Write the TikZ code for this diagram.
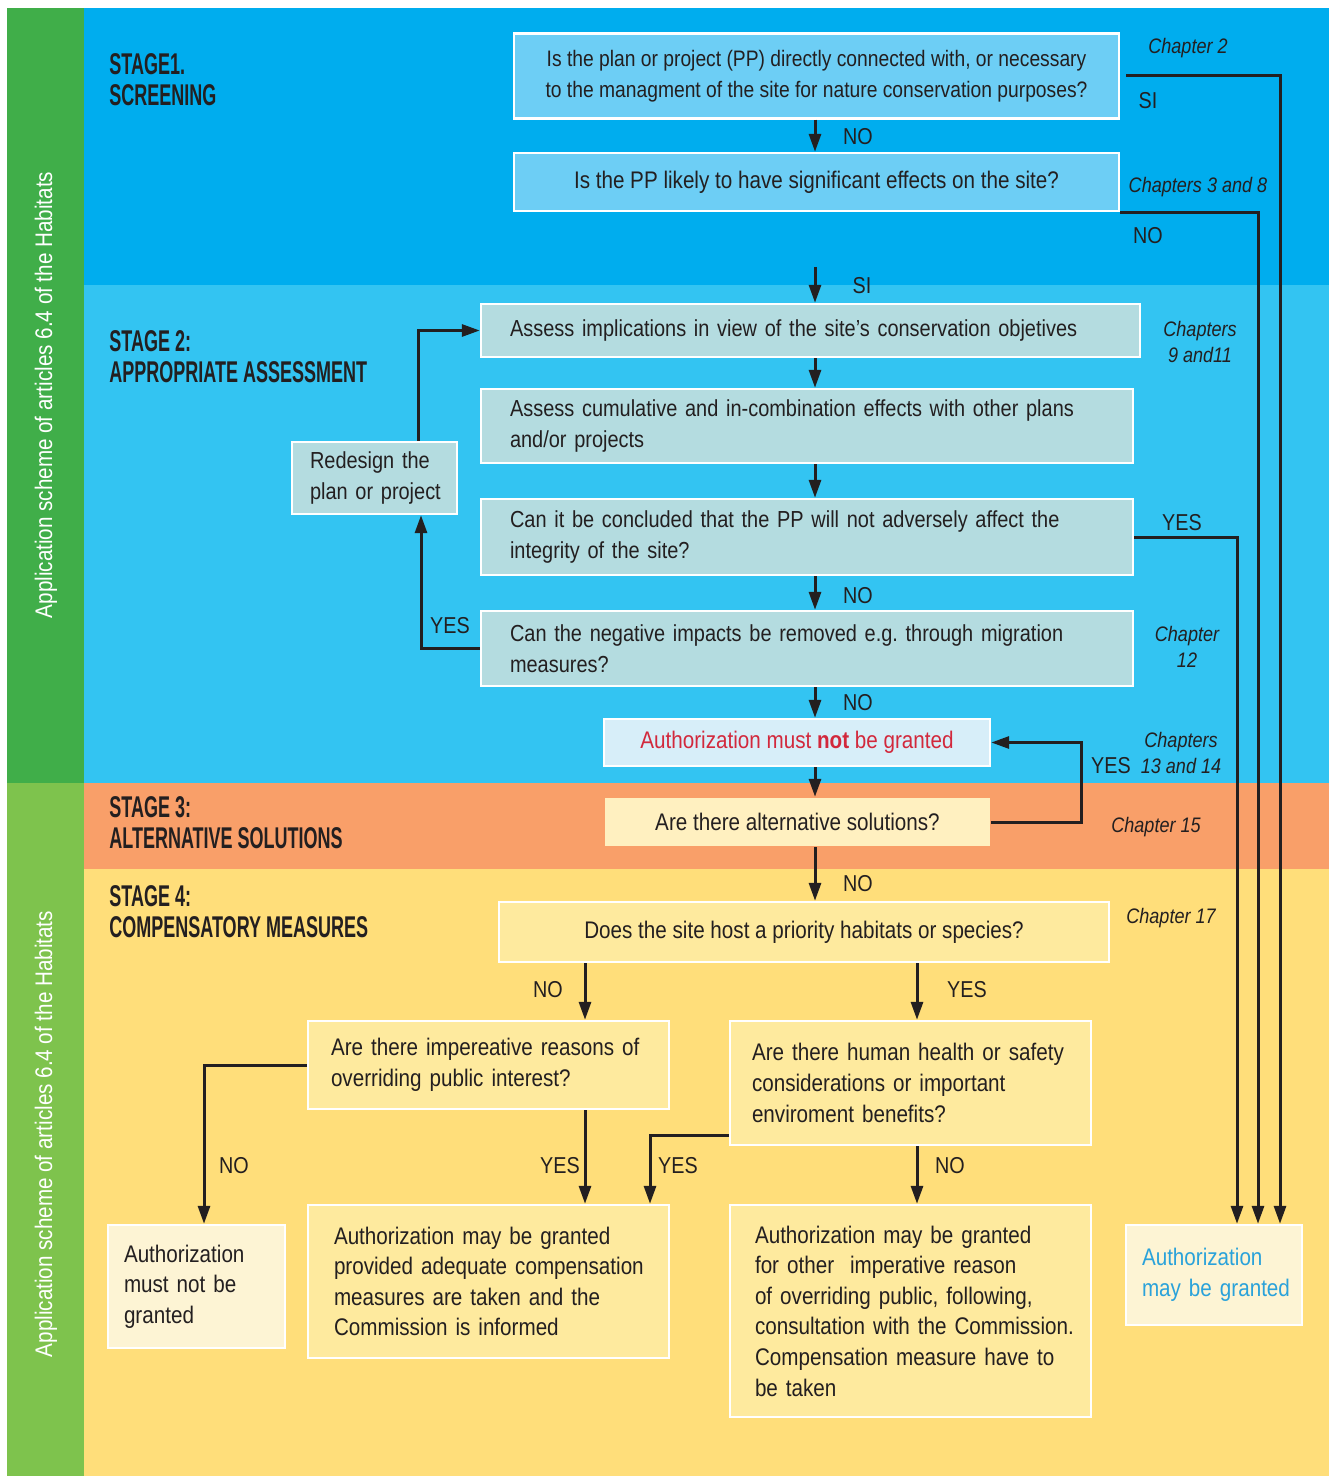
\documentclass[tikz,border=0pt]{standalone}
\usepackage{fontspec}
\setmainfont{Liberation Sans}[FakeStretch=0.86]
\newfontfamily\hdrfont{Liberation Sans}[FakeStretch=0.6]
\usetikzlibrary{arrows.meta}
\definecolor{ink}{HTML}{231F20}
\definecolor{stageA}{HTML}{00ADEE}
\definecolor{stageB}{HTML}{33C4F2}
\definecolor{stageC}{HTML}{F99F69}
\definecolor{stageD}{HTML}{FFDE7A}
\definecolor{greenA}{HTML}{40AE49}
\definecolor{greenB}{HTML}{7EC34D}
\definecolor{boxA}{HTML}{6DCEF5}
\definecolor{boxB}{HTML}{B4DCE0}
\definecolor{boxC}{HTML}{D7EEF9}
\definecolor{boxD}{HTML}{FFF0C0}
\definecolor{boxE}{HTML}{FEEA9E}
\definecolor{boxF}{HTML}{FDF4D4}
\definecolor{authred}{HTML}{D2283C}
\definecolor{authblue}{HTML}{2AA2DA}
\frenchspacing
\begin{document}
\begin{tikzpicture}[x=0.5pt,y=-0.5pt,
  box/.style={draw=white, line width=1.2pt, inner ysep=0pt, text=ink, font=\fontsize{12}{15.3}\selectfont},
  sbox/.style={font=\fontsize{11.6}{15.3}\selectfont},
  cbox/.style={box, align=center, inner xsep=0pt},
  lbox/.style={box, align=left},
  arr/.style={draw=ink, line width=1.5pt, -{Triangle[width=6pt,length=9pt]}},
  lab/.style={text=ink, font=\fontsize{11.5}{14}\selectfont, inner sep=0pt},
  chap/.style={text=ink, font=\itshape\fontsize{10.5}{13}\selectfont, align=center, inner sep=0pt},
  hdr/.style={text=ink, anchor=west, align=left, inner sep=0pt, font=\hdrfont\bfseries\fontsize{15}{15.5}\selectfont},
  vtext/.style={text=white, rotate=90, inner sep=0pt, font=\fontsize{12}{14}\selectfont}]
\useasboundingbox (0,0) rectangle (1329,1476);
\fill[white] (0,0) rectangle (1329,1476);
% bands
\fill[stageA] (84,8) rectangle (1329,285);
\fill[stageB] (84,285) rectangle (1329,783);
\fill[stageC] (84,783) rectangle (1329,869);
\fill[stageD] (84,869) rectangle (1329,1476);
\fill[greenA] (7,8) rectangle (84,783);
\fill[greenB] (7,783) rectangle (84,1476);
\node[vtext] (vt1) at (46,395) {Application scheme of articles 6.4 of the Habitats};
\node[vtext] (vt2) at (46,1134) {Application scheme of articles 6.4 of the Habitats};
% headers
\node[hdr] (h1) at (109,80) {STAGE1.\\SCREENING};
\node[hdr] (h2) at (109,357) {STAGE 2:\\APPROPRIATE ASSESSMENT};
\node[hdr] (h3) at (109,823) {STAGE 3:\\ALTERNATIVE SOLUTIONS};
\node[hdr] (h4) at (109,912) {STAGE 4:\\COMPENSATORY MEASURES};
% boxes
\node[cbox, fill=boxA, minimum width=302.5pt, minimum height=42.5pt, font=\fontsize{11.2}{15.5}\selectfont] (b1) at (816.5,76)
  {Is the plan or project (PP) directly connected with, or necessary\\to the managment of the site for nature conservation purposes?};
\node[cbox, fill=boxA, minimum width=302.5pt, minimum height=29pt] (b2) at (816.5,182)
  {Is the PP likely to have significant effects on the site?};
\node[lbox, sbox, fill=boxB, text width=300.5pt, inner xsep=14.5pt, minimum height=26.5pt] (b3) at (810.5,330.5)
  {\mbox{Assess implications in view of the site’s conservation objetives}};
\node[lbox, sbox, fill=boxB, text width=297pt, inner xsep=14.5pt, minimum height=37pt] (b4) at (807,426)
  {\mbox{Assess cumulative and in-combination effects with other plans}\\\mbox{and/or projects}};
\node[lbox, sbox, fill=boxB, text width=297pt, inner xsep=14.5pt, minimum height=38pt] (b5) at (807,537)
  {\mbox{Can it be concluded that the PP will not adversely affect the}\\\mbox{integrity of the site?}};
\node[lbox, sbox, fill=boxB, text width=297pt, inner xsep=14.5pt, minimum height=37.5pt] (b6) at (807,648.5)
  {\mbox{Can the negative impacts be removed e.g. through migration}\\\mbox{measures?}};
\node[lbox, sbox, fill=boxB, text width=64.5pt, inner xsep=9pt, minimum height=36pt] (rd) at (374.5,478)
  {\mbox{Redesign the}\\\mbox{plan or project}};
\node[cbox, fill=boxC, text=authred, minimum width=193pt, minimum height=23.5pt] (b7) at (797,742.5)
  {Authorization must \textbf{not} be granted};
\node[cbox, fill=boxD, draw=none, minimum width=192.5pt, minimum height=24pt] (b8) at (797.5,822)
  {Are there alternative solutions?};
\node[cbox, fill=boxE, minimum width=305pt, minimum height=30pt] (b9) at (804,932)
  {Does the site host a priority habitats or species?};
\node[lbox, fill=boxE, text width=157.5pt, inner xsep=11.5pt, minimum height=44pt] (b10) at (488.5,1065)
  {\mbox{Are there impereative reasons of}\\\mbox{overriding public interest?}};
\node[lbox, fill=boxE, text width=158.5pt, inner xsep=11pt, minimum height=62pt] (b11) at (910.5,1083)
  {\mbox{Are there human health or safety}\\\mbox{considerations or important}\\\mbox{enviroment benefits?}};
\node[lbox, fill=boxF, text width=72.5pt, inner xsep=8pt, minimum height=61.5pt] (b12) at (196.5,1286.5)
  {\mbox{Authorization}\\\mbox{must not be}\\\mbox{granted}};
\node[lbox, fill=boxE, text width=154.5pt, inner xsep=13pt, minimum height=76.5pt] (b13) at (488.5,1281.5)
  {\mbox{Authorization may be granted}\\\mbox{provided adequate compensation}\\\mbox{measures are taken and the}\\\mbox{Commission is informed}};
\node[lbox, fill=boxE, text width=155.5pt, inner xsep=12.5pt, minimum height=106pt] (b14) at (910.5,1311)
  {\mbox{Authorization may be granted}\\\mbox{for other~ imperative reason}\\\mbox{of overriding public, following,}\\\mbox{consultation with the Commission.}\\\mbox{Compensation measure have to}\\\mbox{be taken}};
\node[lbox, fill=boxF, text=authblue, text width=72pt, inner xsep=8pt, minimum height=50pt] (b15) at (1214,1275)
  {\mbox{Authorization}\\\mbox{may be granted}};
% helper coordinates
\coordinate (sp) at (815,0);
\coordinate (s2) at (815,267);
\coordinate (r1) at (1280,0);
\coordinate (r2) at (1258,0);
\coordinate (r3) at (1237,0);
\coordinate (xl) at (421,0);
\coordinate (xl2) at (418,0);
\coordinate (xr) at (1081,0);
\coordinate (xa) at (585,0);
\coordinate (xb) at (917,0);
\coordinate (xc) at (204,0);
\coordinate (xd) at (650,0);
% spine
\draw[arr] (b1.south -| sp) -- (b2.north -| sp);
\draw[arr] (s2) -- (b3.north -| sp);
\draw[arr] (b3.south -| sp) -- (b4.north -| sp);
\draw[arr] (b4.south -| sp) -- (b5.north -| sp);
\draw[arr] (b5.south -| sp) -- (b6.north -| sp);
\draw[arr] (b6.south -| sp) -- (b7.north -| sp);
\draw[arr] (b7.south -| sp) -- (b8.north -| sp);
\draw[arr] (b8.south -| sp) -- (b9.north -| sp);
% right side to authorisation
\draw[arr] ([xshift=3pt]b1.east) -- (b1.east -| r1) -- (b15.north -| r1);
\draw[arr] (b2.south east) -- (b2.south east -| r2) -- (b15.north -| r2);
\draw[arr] (b5.east) -- (b5.east -| r3) -- (b15.north -| r3);
% redesign loop
\draw[arr] (b6.west) -- (b6.west -| xl) -- (rd.south -| xl);
\draw[arr] (rd.north -| xl2) |- (b3.west);
% alternative solutions yes
\draw[arr] (b8.east) -- (b8.east -| xr) |- (b7.east);
% stage 4
\draw[arr] (b9.south -| xa) -- (b10.north -| xa);
\draw[arr] (b9.south -| xb) -- (b11.north -| xb);
\draw[arr] (b10.west) -- (b10.west -| xc) -- (b12.north -| xc);
\draw[arr] (b10.south -| xa) -- (b13.north -| xa);
\draw[arr] (b11.west |- 0,1135) -- (xd |- 0,1135) -- (b13.north -| xd);
\draw[arr] (b11.south -| xb) -- (b14.north -| xb);
% labels
\node[lab] (l1) at (858,137) {NO};
\node[lab] (l2) at (1148,101) {SI};
\node[lab] (l3) at (1148,236) {NO};
\node[lab] (l4) at (862,286) {SI};
\node[lab] (l5) at (858,596) {NO};
\node[lab] (l6) at (858,703) {NO};
\node[lab] (l7) at (450,626) {YES};
\node[lab] (l8) at (1182,523) {YES};
\node[lab] (l9) at (1111,766) {YES};
\node[lab] (l10) at (858,884) {NO};
\node[lab] (l11) at (548,990) {NO};
\node[lab] (l12) at (967,990) {YES};
\node[lab] (l13) at (234,1166) {NO};
\node[lab] (l14) at (560,1166) {YES};
\node[lab] (l15) at (678,1166) {YES};
\node[lab] (l16) at (950,1166) {NO};
% chapters
\node[chap] (c1) at (1188,48) {Chapter 2};
\node[chap] (c2) at (1198,187) {Chapters 3 and 8};
\node[chap] (c3) at (1200,342) {Chapters\\9 and11};
\node[chap] (c4) at (1187,647) {Chapter\\12};
\node[chap] (c5) at (1181,753) {Chapters\\13 and 14};
\node[chap] (c6) at (1156,827) {Chapter 15};
\node[chap] (c7) at (1171,918) {Chapter 17};
\end{tikzpicture}
\end{document}
